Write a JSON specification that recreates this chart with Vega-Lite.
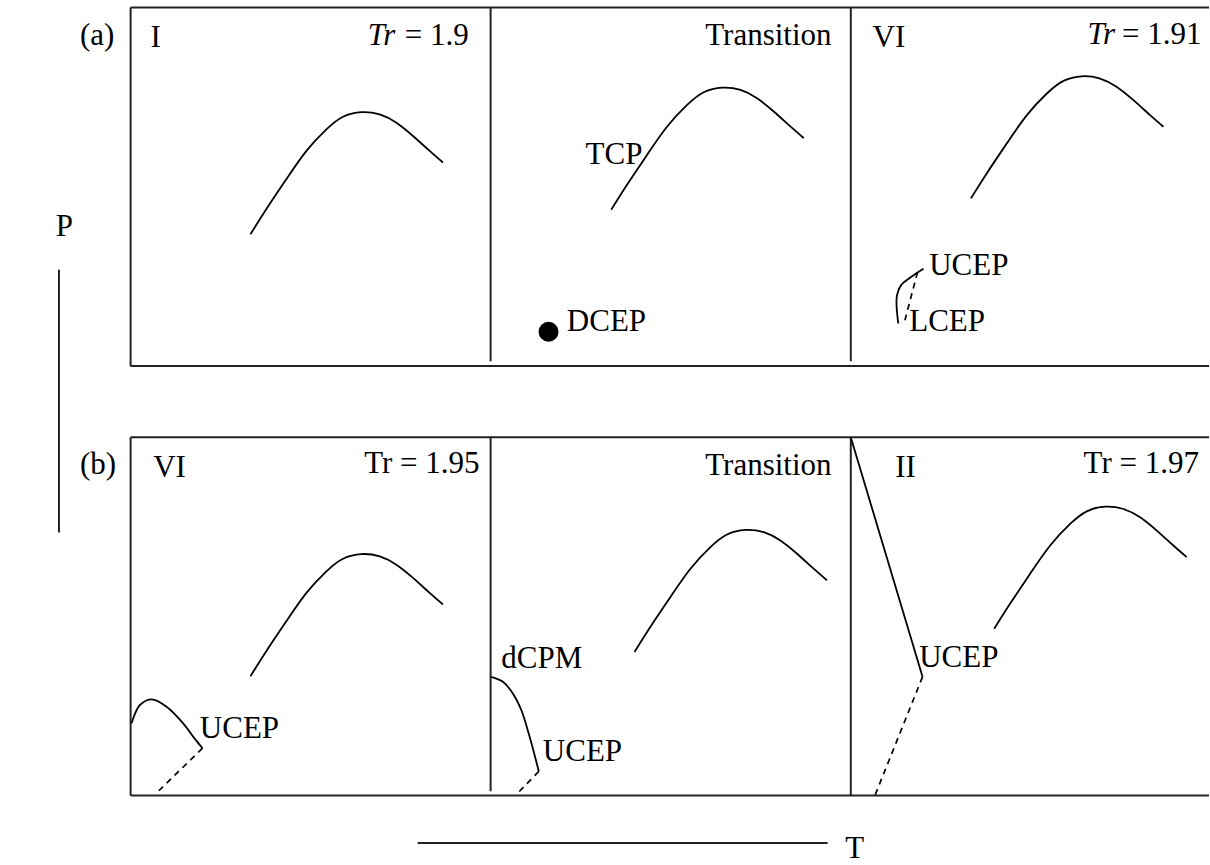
{
  "$schema": "https://vega.github.io/schema/vega-lite/v6.json",
  "width": 1210,
  "height": 865,
  "autosize": {"type": "fit", "contains": "padding"},
  "padding": 0,
  "background": "white",
  "config": {"view": {"stroke": null}},
  "encoding": {
    "x": {"field": "T", "type": "quantitative", "scale": {"domain": [-3.6111, 30], "nice": false, "zero": false}, "axis": null},
    "y": {"field": "P", "type": "quantitative", "scale": {"domain": [-1.8611, 22.1667], "nice": false, "zero": false}, "axis": null}
  },
  "layer": [
    {
      "data": {"values": [
        {"T": 0.02, "P": 21.958, "T2": 30, "P2": 21.958},
        {"T": 0.02, "P": 11.953, "T2": 30, "P2": 11.953},
        {"T": 0.02, "P": 11.953, "T2": 0.02, "P2": 21.958},
        {"T": 10.028, "P": 12.083, "T2": 10.028, "P2": 21.958},
        {"T": 20.042, "P": 12.083, "T2": 20.042, "P2": 21.958},
        {"T": 0.02, "P": 9.964, "T2": 30, "P2": 9.964},
        {"T": 0.02, "P": -0.036, "T2": 30, "P2": -0.036},
        {"T": 0.02, "P": -0.036, "T2": 0.02, "P2": 9.964},
        {"T": 10.028, "P": 0.083, "T2": 10.028, "P2": 9.964},
        {"T": 20.042, "P": -0.036, "T2": 20.042, "P2": 9.964},
        {"T": -1.972, "P": 7.306, "T2": -1.972, "P2": 14.639},
        {"T": 8.0, "P": -1.361, "T2": 19.397, "P2": -1.361}
      ]},
      "mark": {"type": "rule", "color": "#222", "strokeWidth": 2},
      "encoding": {
        "x2": {"field": "T2"},
        "y2": {"field": "P2"}
      }
    },
    {
      "data": {"values": [
        {"id": "a1", "i": 0, "T": 3.352, "P": 15.631},
        {"id": "a1", "i": 1, "T": 3.796, "P": 16.335},
        {"id": "a1", "i": 2, "T": 4.352, "P": 17.168},
        {"id": "a1", "i": 3, "T": 4.908, "P": 17.955},
        {"id": "a1", "i": 4, "T": 5.463, "P": 18.557},
        {"id": "a1", "i": 5, "T": 5.926, "P": 18.909},
        {"id": "a1", "i": 6, "T": 6.435, "P": 19.038},
        {"id": "a1", "i": 7, "T": 6.945, "P": 18.974},
        {"id": "a1", "i": 8, "T": 7.408, "P": 18.742},
        {"id": "a1", "i": 9, "T": 7.871, "P": 18.372},
        {"id": "a1", "i": 10, "T": 8.333, "P": 17.955},
        {"id": "a1", "i": 11, "T": 8.704, "P": 17.631},

        {"id": "a2", "i": 0, "T": 13.381, "P": 16.314},
        {"id": "a2", "i": 1, "T": 13.825, "P": 17.018},
        {"id": "a2", "i": 2, "T": 14.381, "P": 17.851},
        {"id": "a2", "i": 3, "T": 14.937, "P": 18.638},
        {"id": "a2", "i": 4, "T": 15.492, "P": 19.240},
        {"id": "a2", "i": 5, "T": 15.955, "P": 19.592},
        {"id": "a2", "i": 6, "T": 16.464, "P": 19.721},
        {"id": "a2", "i": 7, "T": 16.974, "P": 19.657},
        {"id": "a2", "i": 8, "T": 17.437, "P": 19.425},
        {"id": "a2", "i": 9, "T": 17.900, "P": 19.055},
        {"id": "a2", "i": 10, "T": 18.362, "P": 18.638},
        {"id": "a2", "i": 11, "T": 18.733, "P": 18.314},

        {"id": "a3", "i": 0, "T": 23.381, "P": 16.631},
        {"id": "a3", "i": 1, "T": 23.825, "P": 17.335},
        {"id": "a3", "i": 2, "T": 24.381, "P": 18.168},
        {"id": "a3", "i": 3, "T": 24.937, "P": 18.955},
        {"id": "a3", "i": 4, "T": 25.492, "P": 19.557},
        {"id": "a3", "i": 5, "T": 25.955, "P": 19.909},
        {"id": "a3", "i": 6, "T": 26.464, "P": 20.038},
        {"id": "a3", "i": 7, "T": 26.974, "P": 19.974},
        {"id": "a3", "i": 8, "T": 27.437, "P": 19.742},
        {"id": "a3", "i": 9, "T": 27.900, "P": 19.372},
        {"id": "a3", "i": 10, "T": 28.362, "P": 18.955},
        {"id": "a3", "i": 11, "T": 28.733, "P": 18.631},

        {"id": "b1", "i": 0, "T": 3.352, "P": 3.297},
        {"id": "b1", "i": 1, "T": 3.796, "P": 4.001},
        {"id": "b1", "i": 2, "T": 4.352, "P": 4.834},
        {"id": "b1", "i": 3, "T": 4.908, "P": 5.621},
        {"id": "b1", "i": 4, "T": 5.463, "P": 6.223},
        {"id": "b1", "i": 5, "T": 5.926, "P": 6.575},
        {"id": "b1", "i": 6, "T": 6.435, "P": 6.704},
        {"id": "b1", "i": 7, "T": 6.945, "P": 6.640},
        {"id": "b1", "i": 8, "T": 7.408, "P": 6.408},
        {"id": "b1", "i": 9, "T": 7.871, "P": 6.038},
        {"id": "b1", "i": 10, "T": 8.333, "P": 5.621},
        {"id": "b1", "i": 11, "T": 8.704, "P": 5.297},

        {"id": "b2", "i": 0, "T": 14.028, "P": 3.972},
        {"id": "b2", "i": 1, "T": 14.472, "P": 4.676},
        {"id": "b2", "i": 2, "T": 15.028, "P": 5.509},
        {"id": "b2", "i": 3, "T": 15.584, "P": 6.296},
        {"id": "b2", "i": 4, "T": 16.139, "P": 6.898},
        {"id": "b2", "i": 5, "T": 16.602, "P": 7.250},
        {"id": "b2", "i": 6, "T": 17.111, "P": 7.379},
        {"id": "b2", "i": 7, "T": 17.621, "P": 7.315},
        {"id": "b2", "i": 8, "T": 18.084, "P": 7.083},
        {"id": "b2", "i": 9, "T": 18.547, "P": 6.713},
        {"id": "b2", "i": 10, "T": 19.009, "P": 6.296},
        {"id": "b2", "i": 11, "T": 19.380, "P": 5.972},

        {"id": "b3", "i": 0, "T": 24.028, "P": 4.619},
        {"id": "b3", "i": 1, "T": 24.472, "P": 5.323},
        {"id": "b3", "i": 2, "T": 25.028, "P": 6.156},
        {"id": "b3", "i": 3, "T": 25.584, "P": 6.943},
        {"id": "b3", "i": 4, "T": 26.139, "P": 7.545},
        {"id": "b3", "i": 5, "T": 26.602, "P": 7.897},
        {"id": "b3", "i": 6, "T": 27.111, "P": 8.026},
        {"id": "b3", "i": 7, "T": 27.621, "P": 7.962},
        {"id": "b3", "i": 8, "T": 28.084, "P": 7.730},
        {"id": "b3", "i": 9, "T": 28.547, "P": 7.360},
        {"id": "b3", "i": 10, "T": 29.009, "P": 6.943},
        {"id": "b3", "i": 11, "T": 29.380, "P": 6.619}
      ]},
      "mark": {"type": "line", "color": "black", "strokeWidth": 1.8, "interpolate": "natural"},
      "encoding": {
        "detail": {"field": "id"},
        "order": {"field": "i", "type": "quantitative"}
      }
    },
    {
      "data": {"values": [
        {"id": "a3s", "i": 0, "T": 22.064, "P": 14.667},
        {"id": "a3s", "i": 1, "T": 21.714, "P": 14.436},
        {"id": "a3s", "i": 2, "T": 21.436, "P": 14.203},
        {"id": "a3s", "i": 3, "T": 21.325, "P": 13.925},
        {"id": "a3s", "i": 4, "T": 21.314, "P": 13.647},
        {"id": "a3s", "i": 5, "T": 21.333, "P": 13.389},
        {"id": "a3s", "i": 6, "T": 21.361, "P": 13.139},

        {"id": "b1s", "i": 0, "T": 0.047, "P": 1.981},
        {"id": "b1s", "i": 1, "T": 0.167, "P": 2.306},
        {"id": "b1s", "i": 2, "T": 0.278, "P": 2.492},
        {"id": "b1s", "i": 3, "T": 0.603, "P": 2.647},
        {"id": "b1s", "i": 4, "T": 1.019, "P": 2.444},
        {"id": "b1s", "i": 5, "T": 1.481, "P": 1.981},
        {"id": "b1s", "i": 6, "T": 1.758, "P": 1.611},
        {"id": "b1s", "i": 7, "T": 2.019, "P": 1.286},

        {"id": "b2s", "i": 0, "T": 10.047, "P": 3.278},
        {"id": "b2s", "i": 1, "T": 10.369, "P": 3.139},
        {"id": "b2s", "i": 2, "T": 10.647, "P": 2.814},
        {"id": "b2s", "i": 3, "T": 10.881, "P": 2.353},
        {"id": "b2s", "i": 4, "T": 11.111, "P": 1.611},
        {"id": "b2s", "i": 5, "T": 11.369, "P": 0.639},

        {"id": "b3s", "i": 0, "T": 20.047, "P": 9.944},
        {"id": "b3s", "i": 1, "T": 22.036, "P": 3.278}
      ]},
      "mark": {"type": "line", "color": "black", "strokeWidth": 1.8, "interpolate": "catmull-rom"},
      "encoding": {
        "detail": {"field": "id"},
        "order": {"field": "i", "type": "quantitative"}
      }
    },
    {
      "data": {"values": [
        {"id": "a3d", "i": 0, "T": 21.897, "P": 14.575},
        {"id": "a3d", "i": 1, "T": 21.547, "P": 13.231},
        {"id": "b1d", "i": 0, "T": 2.019, "P": 1.286},
        {"id": "b1d", "i": 1, "T": 0.786, "P": 0.083},
        {"id": "b2d", "i": 0, "T": 11.369, "P": 0.639},
        {"id": "b2d", "i": 1, "T": 10.742, "P": -0.008},
        {"id": "b3d", "i": 0, "T": 22.036, "P": 3.278},
        {"id": "b3d", "i": 1, "T": 20.722, "P": -0.008}
      ]},
      "mark": {"type": "line", "color": "black", "strokeWidth": 1.7, "strokeDash": [6, 5]},
      "encoding": {
        "detail": {"field": "id"},
        "order": {"field": "i", "type": "quantitative"}
      }
    },
    {
      "data": {"values": [{"T": 11.639, "P": 12.908}]},
      "mark": {"type": "point", "shape": "circle", "filled": true, "color": "black", "size": 400, "opacity": 1}
    },
    {
      "data": {"values": [
        {"label": "(a)", "T": -1.389, "P": 20.897},
        {"label": "(b)", "T": -1.389, "P": 8.925},
        {"label": "I", "T": 0.575, "P": 20.842},
        {"label": "= 1.9", "T": 7.639, "P": 20.917},
        {"label": "TCP", "T": 12.667, "P": 17.583},
        {"label": "DCEP", "T": 12.147, "P": 12.936},
        {"label": "VI", "T": 20.647, "P": 20.869},
        {"label": "= 1.91", "T": 27.583, "P": 20.936},
        {"label": "UCEP", "T": 22.222, "P": 14.481},
        {"label": "LCEP", "T": 21.667, "P": 12.925},
        {"label": "VI", "T": 0.647, "P": 8.853},
        {"label": "UCEP", "T": 1.944, "P": 1.583},
        {"label": "dCPM", "T": 10.325, "P": 3.528},
        {"label": "UCEP", "T": 11.481, "P": 0.917},
        {"label": "II", "T": 21.278, "P": 8.853},
        {"label": "UCEP", "T": 21.944, "P": 3.556},
        {"label": "T", "T": 19.889, "P": -1.778}
      ]},
      "mark": {"type": "text", "font": "Liberation Serif", "fontSize": 31, "align": "left", "baseline": "alphabetic", "color": "black"},
      "encoding": {"text": {"field": "label"}}
    },
    {
      "data": {"values": [
        {"label": "Tr", "T": 6.611, "P": 20.917},
        {"label": "Tr", "T": 26.619, "P": 20.936}
      ]},
      "mark": {"type": "text", "font": "Liberation Serif", "fontSize": 31, "fontStyle": "italic", "align": "left", "baseline": "alphabetic", "color": "black"},
      "encoding": {"text": {"field": "label"}}
    },
    {
      "data": {"values": [
        {"label": "Transition", "T": 19.508, "P": 20.917},
        {"label": "Tr = 1.95", "T": 9.722, "P": 8.953},
        {"label": "Transition", "T": 19.508, "P": 8.903},
        {"label": "Tr = 1.97", "T": 29.722, "P": 8.953}
      ]},
      "mark": {"type": "text", "font": "Liberation Serif", "fontSize": 31, "align": "right", "baseline": "alphabetic", "color": "black"},
      "encoding": {"text": {"field": "label"}}
    },
    {
      "data": {"values": [
        {"label": "P", "T": -1.819, "P": 15.592}
      ]},
      "mark": {"type": "text", "font": "Liberation Serif", "fontSize": 31, "align": "center", "baseline": "alphabetic", "color": "black"},
      "encoding": {"text": {"field": "label"}}
    }
  ]
}
